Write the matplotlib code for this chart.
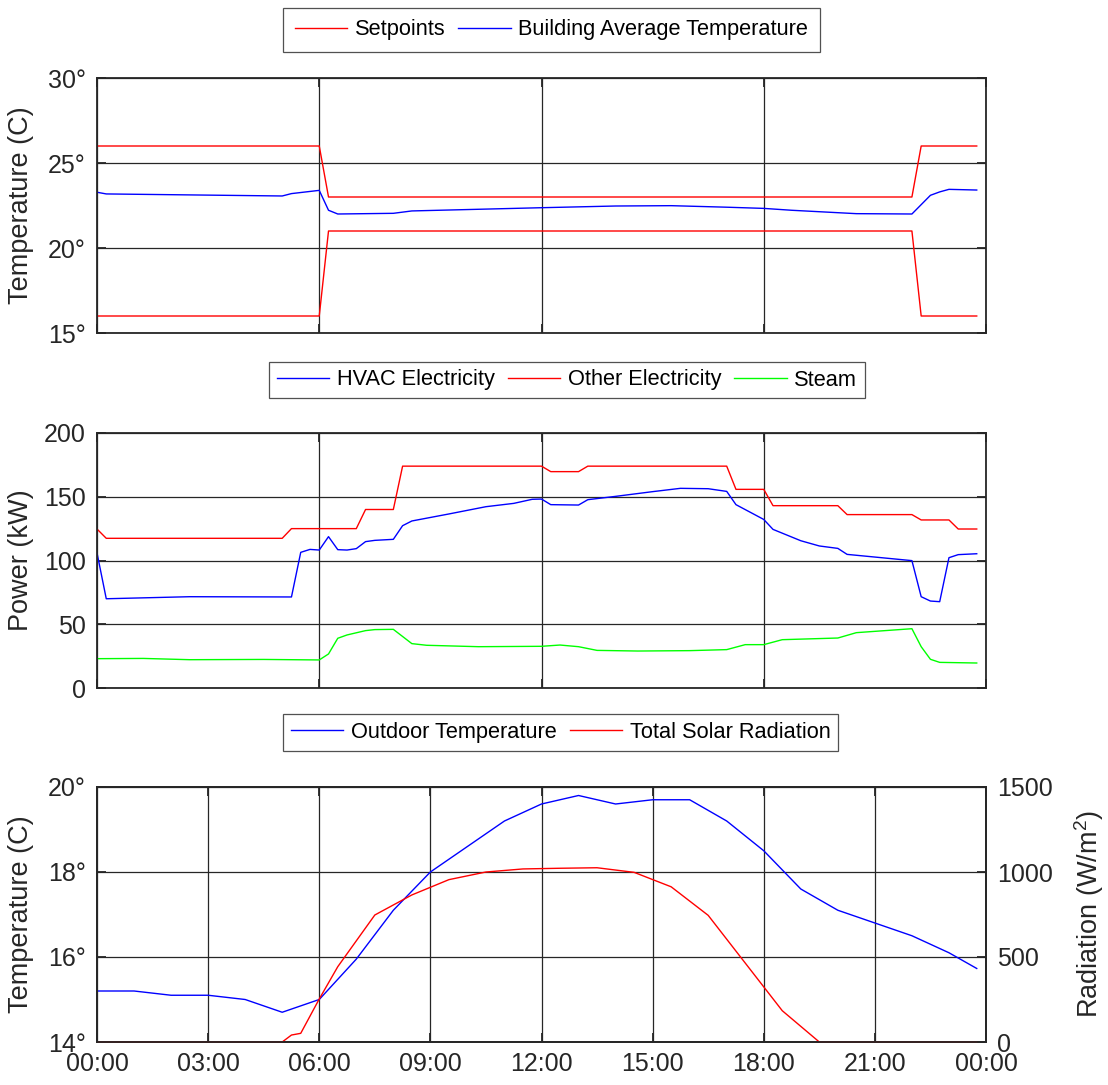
import matplotlib
matplotlib.use("Agg")
import matplotlib.pyplot as plt
from matplotlib.lines import Line2D

plt.rcParams['font.family'] = ['Liberation Sans', 'DejaVu Sans']
plt.rcParams['mathtext.fontset'] = 'custom'
plt.rcParams['mathtext.rm'] = 'Liberation Sans'
plt.rcParams['mathtext.it'] = 'Liberation Sans'

# ---------------- data (hours of day) ----------------
setpoint_time = [0, 6, 6.25, 22, 22.25, 23.75]
setpoint_upper = [26, 26, 23, 23, 26, 26]
setpoint_lower = [16, 16, 21, 21, 16, 16]

building_time = [0, 0.25, 5.0, 5.25, 6.0, 6.25, 6.5, 8.0, 8.5, 12.0, 14.0, 15.5,
                 17.0, 18.0, 18.75, 20.5, 22.0, 22.5, 22.75, 23.0, 23.75]
building_temp = [23.28, 23.18, 23.06, 23.2, 23.39, 22.22, 22.0, 22.04, 22.18, 22.37,
                 22.47, 22.49, 22.4, 22.33, 22.22, 22.02, 22.0, 23.1, 23.3, 23.45, 23.41]

hvac_time = [0, 0.25, 2.5, 5.25, 5.5, 5.75, 6.0, 6.25, 6.5, 6.75, 7.0, 7.25, 7.5, 8.0,
             8.25, 8.5, 9.5, 10.5, 11.25, 11.75, 12.0, 12.25, 13.0, 13.25, 14.0, 15.0,
             15.75, 16.5, 17.0, 17.25, 18.0, 18.25, 19.0, 19.5, 20.0, 20.25, 22.0,
             22.25, 22.5, 22.75, 23.0, 23.25, 23.75]
hvac_kw = [106, 70, 71.6, 71.4, 106.4, 108.7, 108.2, 118.7, 108.5, 108.2, 109.3, 114.8,
           115.8, 116.6, 127.3, 131, 136.5, 142.2, 144.8, 148, 148.2, 143.8, 143.5, 147.7,
           150.3, 154, 156.6, 156.3, 154.2, 143.8, 132.2, 124.4, 115.5, 111.4, 109.5,
           104.8, 99.9, 71.6, 68.2, 67.7, 102.2, 104.6, 105.3]

other_time = [0, 0.25, 5.0, 5.25, 7.0, 7.25, 8.0, 8.25, 12.0, 12.25, 13.0, 13.25, 17.0,
              17.25, 18.0, 18.25, 20.0, 20.25, 22.0, 22.25, 23.0, 23.25, 23.75]
other_kw = [124.7, 117.4, 117.4, 125, 125, 140, 140, 174, 174, 169.7, 169.7, 174, 174,
            155.8, 155.8, 143, 143, 136, 136, 131.8, 131.8, 124.7, 124.7]

steam_time = [0, 1.25, 2.5, 4.5, 6.0, 6.25, 6.5, 6.75, 7.25, 7.5, 8.0, 8.5, 8.9, 10.3,
              12.0, 12.5, 13.0, 13.5, 14.6, 16.0, 17.0, 17.5, 18.0, 18.5, 20.0, 20.5,
              22.0, 22.25, 22.5, 22.75, 23.75]
steam_kw = [23, 23.2, 22.2, 22.4, 22.0, 26.7, 39, 41.6, 45, 45.8, 46, 34.8, 33.5, 32.4,
            32.7, 33.7, 32.4, 29.5, 29, 29.3, 30.1, 34, 34, 37.9, 39.2, 43.4, 46.5, 32.4,
            22.5, 20.1, 19.6]

outdoor_time = [0, 1, 2, 3, 4, 5, 6, 7, 8, 9, 10, 11, 12, 13, 14, 15, 16, 17, 18, 19,
                20, 21, 22, 23, 23.75]
outdoor_temp = [15.2, 15.2, 15.1, 15.1, 15.0, 14.7, 15.0, 15.95, 17.1, 18.0, 18.6, 19.2,
                19.6, 19.8, 19.6, 19.7, 19.7, 19.2, 18.5, 17.6, 17.1, 16.8, 16.5, 16.1, 15.73]

solar_time = [0, 5.0, 5.25, 5.5, 6.0, 6.5, 7.5, 8.5, 9.5, 10.5, 11.5, 12.5, 13.5, 14.5,
              15.5, 16.5, 18.5, 19.5, 23.75]
solar_rad = [0, 0, 41, 51, 253, 443, 747, 865, 955, 1000, 1018, 1022, 1025, 998, 913,
             745, 184, 0, 0]

hour_ticks = [0, 3, 6, 9, 12, 15, 18, 21, 24]
hour_labels = ['00:00', '03:00', '06:00', '09:00', '12:00', '15:00', '18:00', '21:00', '00:00']

# ---------------- style ----------------
RED, BLUE, GREEN = '#FF0000', '#0000FF', '#00FF00'
AXC = '#262626'
TICK_FS = 18
LABEL_FS = 19.5
LEG_FS = 15.7
LW = 1.0

fig = plt.figure(figsize=(11.08, 10.85), dpi=100)
W = 1108.0
H = 1085.0
left = 97 / W
width = (986 - 97) / W
height = 255 / H


def style(ax, xt, yt, ylab_fmt):
    ax.set_xlim(0, 24)
    ax.set_xticks(xt)
    ax.set_yticks(yt)
    ax.grid(True, color=AXC, linewidth=0.9)
    ax.set_axisbelow(True)
    for s in ax.spines.values():
        s.set_color(AXC)
        s.set_linewidth(1.3)
    ax.tick_params(direction='in', length=6.5, width=1.3, colors=AXC,
                   labelsize=TICK_FS, top=True, right=True, pad=8)
    ax.set_yticklabels([ylab_fmt(v) for v in yt])


def leg(ax, handles, labels, cx, cy, bpad=0.35):
    lg = ax.legend(handles, labels, loc='center', bbox_to_anchor=(cx, cy),
                   bbox_transform=fig.transFigure, ncol=len(labels), fontsize=LEG_FS,
                   frameon=True, fancybox=False, edgecolor=AXC, handlelength=2.4,
                   handletextpad=0.35, columnspacing=0.6, borderpad=bpad)
    lg.get_frame().set_linewidth(0.9)
    return lg


# ---------- top axes ----------
ax1 = fig.add_axes([left, 1 - 333 / H, width, height])
ax1.plot(setpoint_time, setpoint_upper, color=RED, lw=LW)
ax1.plot(setpoint_time, setpoint_lower, color=RED, lw=LW)
ax1.plot(building_time, building_temp, color=BLUE, lw=LW)
ax1.set_ylim(15, 30)
style(ax1, [0, 6, 12, 18, 24], [15, 20, 25, 30], lambda v: f'{v}°')
ax1.set_xticklabels([])
ax1.set_ylabel('Temperature (C)', fontsize=LABEL_FS, color=AXC)
ax1.yaxis.set_label_coords(-0.071, 0.5)
leg(ax1, [Line2D([], [], color=RED, lw=LW), Line2D([], [], color=BLUE, lw=LW)],
    ['Setpoints', 'Building Average Temperature'], 551.5 / W, 1 - 30 / H, bpad=0.55)

# ---------- middle axes ----------
ax2 = fig.add_axes([left, 1 - 688 / H, width, height])
ax2.plot(hvac_time, hvac_kw, color=BLUE, lw=LW, label='HVAC Electricity')
ax2.plot(other_time, other_kw, color=RED, lw=LW, label='Other Electricity')
ax2.plot(steam_time, steam_kw, color=GREEN, lw=LW, label='Steam')
ax2.set_ylim(0, 200)
style(ax2, [0, 6, 12, 18, 24], [0, 50, 100, 150, 200], lambda v: f'{v}')
ax2.set_xticklabels([])
ax2.set_ylabel('Power (kW)', fontsize=LABEL_FS, color=AXC)
ax2.yaxis.set_label_coords(-0.071, 0.5)
h2, l2 = ax2.get_legend_handles_labels()
leg(ax2, h2, l2, 567 / W, 1 - 380 / H)

# ---------- bottom axes ----------
ax3 = fig.add_axes([left, 1 - 1042 / H, width, height])
ax3.plot(outdoor_time, outdoor_temp, color=BLUE, lw=LW)
ax3.set_ylim(14, 20)
style(ax3, hour_ticks, [14, 16, 18, 20], lambda v: f'{v}°')
ax3.tick_params(right=False)
ax3.tick_params(axis='x', pad=7)
ax3.set_xticklabels(hour_labels)
ax3.set_ylabel('Temperature (C)', fontsize=LABEL_FS, color=AXC)
ax3.yaxis.set_label_coords(-0.071, 0.5)

ax4 = ax3.twinx()
ax4.plot(solar_time, solar_rad, color=RED, lw=LW, clip_on=False)
ax4.set_ylim(0, 1500)
ax4.set_xlim(0, 24)
ax4.set_yticks([0, 500, 1000, 1500])
ax4.set_yticklabels(['0', '500', '1000', '1500'])
ax4.tick_params(direction='in', length=6.5, width=1.3, colors=AXC,
                labelsize=TICK_FS, pad=8, left=False, right=True)
for s in ax4.spines.values():
    s.set_color(AXC)
    s.set_linewidth(1.3)
ax4.set_ylabel('Radiation (W/m$^{2}$)', fontsize=LABEL_FS, color=AXC)
ax4.yaxis.set_label_coords(1.097, 0.5)

leg(ax4, [Line2D([], [], color=BLUE, lw=LW), Line2D([], [], color=RED, lw=LW)],
    ['Outdoor Temperature', 'Total Solar Radiation'], 560.5 / W, 1 - 732.5 / H)

fig.savefig('out.png', dpi=100, facecolor='white')
